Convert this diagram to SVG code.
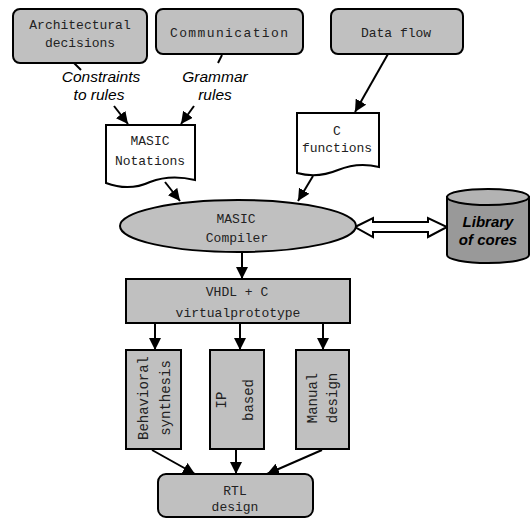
<svg xmlns="http://www.w3.org/2000/svg" width="530" height="519" viewBox="0 0 530 519">
<style>
.box{fill:#c0c0c0;stroke:#000;stroke-width:2}
.doc{fill:#fff;stroke:#000;stroke-width:2}
.mono{font-family:"Liberation Mono","DejaVu Sans Mono",monospace;font-size:13px;fill:#222;text-anchor:middle}
.lab{font-family:"Liberation Sans",Arial,sans-serif;font-style:italic;font-size:15.5px;fill:#000;text-anchor:middle}
.lib{font-family:"Liberation Sans",Arial,sans-serif;font-style:italic;font-weight:bold;font-size:15px;fill:#000;text-anchor:middle}
.ln{stroke:#000;stroke-width:2;fill:none}
.arr{stroke:#000;stroke-width:2;fill:none;marker-end:url(#ah)}
</style>
<defs>
<marker id="ah" markerWidth="12" markerHeight="12" refX="12" refY="6" orient="auto" markerUnits="userSpaceOnUse">
<path d="M0,0 L12,6 L0,12 z" fill="#000"/>
</marker>
</defs>
<g id="connectors">
<line class="ln" x1="74" y1="63" x2="81" y2="70"/>
<line class="arr" x1="114" y1="106" x2="128" y2="124"/>
<line class="ln" x1="222" y1="55" x2="218" y2="63"/>
<line class="arr" x1="194" y1="106" x2="181" y2="124"/>
<line class="arr" x1="388" y1="54" x2="355" y2="112"/>
<line class="arr" x1="165" y1="182" x2="180" y2="201"/>
<line class="arr" x1="313" y1="176" x2="298" y2="201"/>
<line class="arr" x1="242" y1="252" x2="242" y2="279"/>
<line class="arr" x1="155" y1="323" x2="155" y2="350"/>
<line class="arr" x1="240" y1="323" x2="240" y2="350"/>
<line class="arr" x1="323" y1="323" x2="323" y2="350"/>
<line class="arr" x1="152" y1="450" x2="195" y2="474"/>
<line class="arr" x1="236" y1="450" x2="236" y2="474"/>
<line class="arr" x1="322" y1="450" x2="267" y2="474"/>
<polygon points="355,227 373,218 373,222 428,222 428,218 447,227 428,237 428,232 373,232 373,237" fill="#fff" stroke="#000" stroke-width="2"/>
<text class="lab" x="101" y="82">Constraints</text>
<text class="lab" x="99" y="100">to rules</text>
<text class="lab" x="215" y="82">Grammar</text>
<text class="lab" x="215" y="100">rules</text>
</g>
<g id="architectural">
<rect class="box" x="13" y="9" width="134" height="54" rx="7"/>
<text class="mono" x="80" y="29">Architectural</text>
<text class="mono" x="80" y="47">decisions</text>
</g>
<g id="communication">
<rect class="box" x="156" y="9" width="147" height="45" rx="7"/>
<text class="mono" x="229" y="37" textLength="118">Communication</text>
</g>
<g id="dataflow">
<rect class="box" x="331" y="9" width="132" height="45" rx="7"/>
<text class="mono" x="396" y="37">Data flow</text>
</g>
<g id="masic-notations">
<path class="doc" d="M106,125 H195 V180 C178,176 163,177 150,182 C137,188 122,189 106,183 Z"/>
<text class="mono" x="150" y="145">MASIC</text>
<text class="mono" x="150" y="165">Notations</text>
</g>
<g id="c-functions">
<path class="doc" d="M297,113 H379 V167 C363,163 350,165 338,170 C326,175 312,177 297,173 Z"/>
<text class="mono" x="337" y="135">C</text>
<text class="mono" x="337" y="152">functions</text>
</g>
<g id="compiler">
<ellipse class="box" cx="238" cy="226" rx="118" ry="26"/>
<text class="mono" x="236" y="223">MASIC</text>
<text class="mono" x="237" y="242">Compiler</text>
</g>
<g id="library">
<path d="M447,197 V255 A41,8 0 0 0 529,255 V197 Z" fill="#999" stroke="#000" stroke-width="2"/>
<ellipse cx="488" cy="197" rx="41" ry="8" fill="#b3b3b3" stroke="#000" stroke-width="2"/>
<text class="lib" x="488" y="227">Library</text>
<text class="lib" x="488" y="245">of cores</text>
</g>
<g id="vhdl">
<rect class="box" x="126" y="279" width="224" height="44"/>
<text class="mono" x="237" y="296">VHDL + C</text>
<text class="mono" x="238" y="317">virtualprototype</text>
</g>
<g id="behavioral">
<rect class="box" x="126" y="350" width="55" height="99"/>
<text class="mono" style="font-size:14px" transform="translate(148,398) rotate(-90)">Behavioral</text>
<text class="mono" style="font-size:14px" transform="translate(170,398) rotate(-90)">synthesis</text>
</g>
<g id="ip-based">
<rect class="box" x="210" y="350" width="54" height="99"/>
<text class="mono" style="font-size:14px" transform="translate(226,400) rotate(-90)">IP</text>
<text class="mono" style="font-size:14px" transform="translate(253,400) rotate(-90)">based</text>
</g>
<g id="manual">
<rect class="box" x="296" y="350" width="53" height="99"/>
<text class="mono" style="font-size:14px" transform="translate(317,398) rotate(-90)">Manual</text>
<text class="mono" style="font-size:14px" transform="translate(337,398) rotate(-90)">design</text>
</g>
<g id="rtl">
<rect class="box" x="158" y="474" width="155" height="43" rx="8"/>
<text class="mono" x="235" y="495">RTL</text>
<text class="mono" x="235" y="511">design</text>
</g>
</svg>
